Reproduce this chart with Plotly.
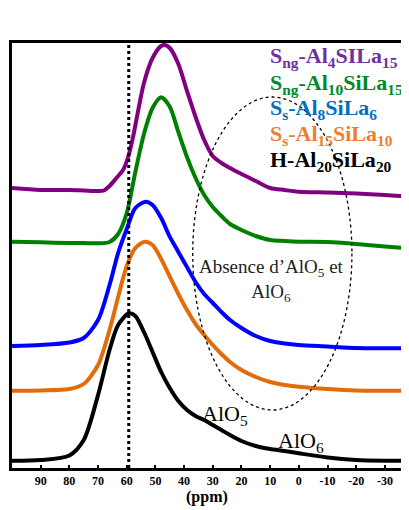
import plotly.graph_objects as go

# ---- data (ppm, stacked intensity in arbitrary units) ----
ppm_purple = [100, 90, 80, 75, 70, 68, 66, 63.6, 61.3, 59.5, 57.8, 54, 51, 48, 46.7, 45, 42, 39, 36, 33, 30, 27, 24, 20, 15, 10, 5, 0, -10, -20, -30, -38.4]
int_purple = [280, 278, 278, 277.5, 277, 277.5, 282, 290, 298, 311, 331, 385, 410, 422, 423, 420, 404, 377, 351, 328, 312, 305, 300, 294, 287, 280, 278, 276.3, 275.5, 274.5, 273, 271.3]

ppm_green = [100, 90, 80, 75, 70, 66, 63, 60, 57, 54, 51, 48, 45, 42, 39, 36, 33, 30, 27, 24, 20, 15, 10, 5, 0, -10, -20, -30, -38.4]
int_green = [226.3, 225.7, 225, 225, 224.7, 226, 234, 255, 296, 334, 360, 370.7, 361.3, 336, 311, 290, 273, 261, 252, 244, 238, 232, 228, 227, 226.3, 226, 224, 221.5, 219.7]

ppm_blue = [100, 90, 80, 75, 70, 66, 63, 60, 57, 53.4, 51, 48, 45, 42, 39, 36, 33, 30, 27, 24, 20, 15, 10, 5, 0, -10, -20, -30, -38.4]
int_blue = [122, 123, 125.5, 130, 148, 183, 215, 239, 260, 266.3, 263, 250, 231.3, 216, 201, 186, 174, 165, 156, 148, 140, 132, 127, 124.5, 123, 121.5, 120, 119.7, 119.7]

ppm_orange = [100, 90, 80, 75, 70, 66, 63, 60, 57, 53.7, 51, 48, 45, 42, 39, 36, 33, 30, 27, 24, 20, 15, 10, 5, 0, -10, -20, -30, -38.4]
int_orange = [77.3, 77.5, 79, 84, 103, 138, 171, 202, 220, 226.3, 223, 209, 191.3, 174, 158, 144, 133, 123, 114, 106, 98, 91, 86, 83, 81.3, 79, 77.5, 77.3, 77.3]

ppm_black = [100, 90, 80, 75, 70, 66, 63, 59.2, 57, 54, 51, 48, 45, 42, 39, 36, 33, 30, 27, 24, 20, 15, 10, 5, 0, -10, -20, -30, -38.4]
int_black = [7.3, 8, 12.5, 28, 73, 118, 143, 154.7, 152, 136, 116, 96, 80, 67, 58, 52, 48, 43, 38, 33, 27, 22, 19, 17, 14.7, 10.5, 8, 7.3, 7.3]

series_names = [
    "S<sub>ng</sub>-Al<sub>4</sub>SILa<sub>15</sub>",
    "S<sub>ng</sub>-Al<sub>10</sub>SiLa<sub>15</sub>",
    "S<sub>s</sub>-Al<sub>8</sub>SiLa<sub>6</sub>",
    "S<sub>s</sub>-Al<sub>15</sub>SiLa<sub>10</sub>",
    "H-Al<sub>20</sub>SiLa<sub>20</sub>",
]

tick_vals = [90, 80, 70, 60, 50, 40, 30, 20, 10, 0, -10, -20, -30]
tick_labels = ["90", "80", "70", "60", "50", "40", "30", "20", "10", "0", "-10", "-20", "-30"]

line_colors = ["#800080", "#008000", "#0000FF", "#E36C0A", "#000000"]
text_colors = ["#7030A0", "#00882A", "#0070C0", "#ED7D31", "#000000"]

AlO4_POS = 59.3

fig = go.Figure()
for xs, ys, c, name in zip(
    [ppm_purple, ppm_green, ppm_blue, ppm_orange, ppm_black],
    [int_purple, int_green, int_blue, int_orange, int_black],
    line_colors, series_names):
    fig.add_trace(go.Scatter(x=xs, y=ys, mode="lines", line=dict(color=c, width=4, shape="spline", smoothing=0.8),
                             name=name, showlegend=False))

serif = "Liberation Serif"
# legend-like labels
legend_y = [411, 384, 359, 333, 307]
for name, c, yy in zip(series_names, text_colors, legend_y):
    fig.add_annotation(x=10.8, y=yy, xref="x", yref="y", text="<b>" + name + "</b>", showarrow=False,
                       xanchor="left", yanchor="middle", font=dict(family=serif, size=22, color=c))

fig.add_annotation(x=49.5, y=445, xref="x", yref="y", text="AlO<sub>4</sub>", showarrow=False,
                   xanchor="center", yanchor="middle", font=dict(family=serif, size=22, color="#000"))
fig.add_annotation(x=25.8, y=53, xref="x", yref="y", text="AlO<sub>5</sub>", showarrow=False,
                   xanchor="center", yanchor="middle", font=dict(family=serif, size=22, color="#000"))
fig.add_annotation(x=-0.7, y=26, xref="x", yref="y", text="AlO<sub>6</sub>", showarrow=False,
                   xanchor="center", yanchor="middle", font=dict(family=serif, size=22, color="#000"))
fig.add_annotation(x=9.4, y=188, xref="x", yref="y", text="Absence d’AlO<sub>5</sub> et<br>AlO<sub>6</sub>",
                   showarrow=False, xanchor="center", yanchor="middle", align="center",
                   font=dict(family=serif, size=19, color="#222"))
fig.add_annotation(x=0.49, y=-0.069, xref="paper", yref="paper", text="<b>(ppm)</b>", showarrow=False,
                   xanchor="center", yanchor="middle", font=dict(family=serif, size=16, color="#000"))

fig.add_shape(type="line", x0=AlO4_POS, x1=AlO4_POS, y0=0, y1=425, xref="x", yref="y",
              line=dict(color="#000", width=3, dash="dot"))
fig.add_shape(type="circle", x0=37, x1=-18.5, y0=58, y1=371, xref="x", yref="y",
              line=dict(color="#000", width=1.3, dash="dot"))

# page body adds an 8px margin, so the figure is offset to compensate
fig.update_layout(
    width=401, height=502,
    margin=dict(l=4, r=0, t=35, b=42),
    paper_bgcolor="white", plot_bgcolor="white",
    xaxis=dict(range=[100, -38.4], showgrid=False, zeroline=False, showline=True, linecolor="#000",
               linewidth=3, mirror=True, ticks="inside", ticklen=3, tickwidth=2, tickcolor="#000",
               tickvals=tick_vals, ticktext=["<b>" + t + "</b>" for t in tick_labels],
               tickfont=dict(family=serif, size=12, color="#000")),
    yaxis=dict(range=[0, 425], showgrid=False, zeroline=False, showline=True, linecolor="#000",
               linewidth=3, showticklabels=False, ticks=""),
)

fig.write_html("out.html")
